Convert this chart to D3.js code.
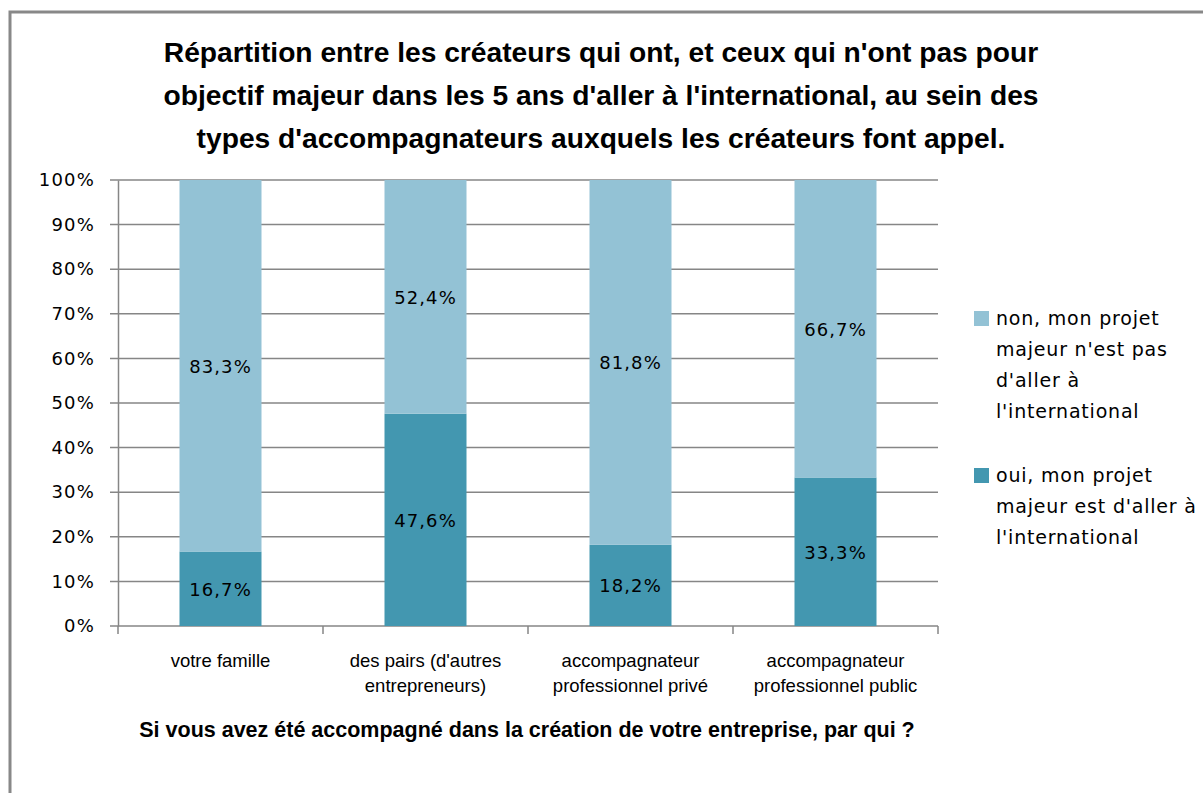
<!DOCTYPE html>
<html>
<head>
<meta charset="utf-8">
<script src="https://cdn.jsdelivr.net/npm/d3@7"></script>
<style>
  body { margin: 0; background: #fff; }
  svg { display: block; }
  .narrow { font-family: "Liberation Sans Narrow", "Arial Narrow", "Liberation Sans", sans-serif; }
  .wide { font-family: "DejaVu Sans", Verdana, sans-serif; }
</style>
</head>
<body>
<script>
const w = 1203;
const h = 793;

const categories = [
  ["votre famille"],
  ["des pairs (d'autres", "entrepreneurs)"],
  ["accompagnateur", "professionnel privé"],
  ["accompagnateur", "professionnel public"],
];
const oui = [16.7, 47.6, 18.2, 33.3];
const non = [83.3, 52.4, 81.8, 66.7];
const yTicks = [0, 10, 20, 30, 40, 50, 60, 70, 80, 90, 100];
const titleLines = [
  "Répartition entre les créateurs qui ont, et ceux qui n'ont pas pour",
  "objectif majeur dans les 5 ans d'aller à l'international, au sein des",
  "types d'accompagnateurs auxquels les créateurs font appel.",
];
const legendItems = [
  { color: "#93c2d5", lines: ["non, mon projet", "majeur n'est pas", "d'aller à", "l'international"] },
  { color: "#4397b0", lines: ["oui, mon projet", "majeur est d'aller à", "l'international"] },
];
const xTitle = "Si vous avez été accompagné dans la création de votre entreprise, par qui ?";

const colOui = "#4397b0";
const colNon = "#93c2d5";
const grid = "#868686";

const svg = d3.select("body").append("svg").attr("width", w).attr("height", h);

// frame
svg.append("rect")
  .attr("x", 10).attr("y", 12)
  .attr("width", w + 20).attr("height", h + 20)
  .attr("fill", "#fff").attr("stroke", "#888").attr("stroke-width", 3);

// title
svg.append("g").selectAll("text")
  .data(titleLines)
  .enter().append("text")
  .attr("class", "narrow")
  .attr("x", 601)
  .attr("y", (d, i) => 62 + i * 43)
  .attr("text-anchor", "middle")
  .attr("font-size", 28.2)
  .attr("font-weight", "bold")
  .text((d) => d);

const pLeft = 118, pRight = 938, pTop = 180, pBottom = 626;

const x = d3.scaleBand()
  .domain(d3.range(categories.length))
  .range([pLeft, pRight])
  .paddingInner(0.6)
  .paddingOuter(0.3);
const xb = d3.scaleBand().domain(d3.range(categories.length)).range([pLeft, pRight]);
const y = d3.scaleLinear().domain([0, 100]).range([pBottom, pTop]);

// grid lines
svg.append("g").selectAll("line")
  .data(yTicks)
  .enter().append("line")
  .attr("x1", pLeft - 8).attr("x2", pRight)
  .attr("y1", (d) => y(d)).attr("y2", (d) => y(d))
  .attr("stroke", grid).attr("stroke-width", 1.5);

// y axis
const yAxis = d3.axisLeft(y).tickValues(yTicks).tickSize(0).tickPadding(23)
  .tickFormat((d) => d + "%");
svg.append("g")
  .attr("transform", `translate(${pLeft}, 0)`)
  .call(yAxis)
  .call((g) => g.select(".domain").attr("stroke", grid).attr("stroke-width", 1.5))
  .call((g) => g.selectAll("text").attr("class", "wide").attr("font-size", 18)
    .attr("fill", "#000").attr("letter-spacing", 1.2));

// x axis ticks at category boundaries
const bounds = d3.range(categories.length + 1).map((i) => pLeft + i * xb.bandwidth());
svg.append("g").selectAll("line")
  .data(bounds)
  .enter().append("line")
  .attr("x1", (d) => d).attr("x2", (d) => d)
  .attr("y1", pBottom).attr("y2", pBottom + 8)
  .attr("stroke", grid).attr("stroke-width", 1.5);

// bars
const bars = svg.append("g");
bars.selectAll(".oui")
  .data(oui)
  .enter().append("rect")
  .attr("x", (d, i) => x(i))
  .attr("width", x.bandwidth())
  .attr("y", (d) => y(d))
  .attr("height", (d) => y(0) - y(d))
  .attr("fill", colOui);
bars.selectAll(".non")
  .data(non)
  .enter().append("rect")
  .attr("x", (d, i) => x(i))
  .attr("width", x.bandwidth())
  .attr("y", (d, i) => y(oui[i] + d))
  .attr("height", (d, i) => y(oui[i]) - y(oui[i] + d))
  .attr("fill", colNon);

const fmt = (v) => v.toFixed(1).replace(".", ",") + "%";
const labels = svg.append("g").attr("class", "wide").attr("font-size", 18)
  .attr("text-anchor", "middle").attr("letter-spacing", 1.1);
labels.selectAll(".lo")
  .data(oui)
  .enter().append("text")
  .attr("x", (d, i) => x(i) + x.bandwidth() / 2)
  .attr("y", (d) => y(d / 2) + 7)
  .text((d) => fmt(d));
labels.selectAll(".ln")
  .data(non)
  .enter().append("text")
  .attr("x", (d, i) => x(i) + x.bandwidth() / 2)
  .attr("y", (d, i) => y(oui[i] + d / 2) + 7)
  .text((d) => fmt(d));

// category labels
const cat = svg.append("g").attr("class", "narrow").attr("font-size", 18.5).attr("text-anchor", "middle");
categories.forEach((lines, i) => {
  const t = cat.append("text").attr("x", xb(i) + xb.bandwidth() / 2).attr("y", 667);
  lines.forEach((l, j) => t.append("tspan").attr("x", xb(i) + xb.bandwidth() / 2).attr("dy", j ? 25 : 0).text(l));
});

// x title
svg.append("text")
  .attr("class", "narrow")
  .attr("x", 527).attr("y", 737)
  .attr("text-anchor", "middle")
  .attr("font-size", 21.5).attr("font-weight", "bold")
  .text(xTitle);

// legend
const legend = svg.append("g").attr("class", "wide").attr("font-size", 19).attr("letter-spacing", 0.8);
let ly = 318;
legendItems.forEach((item) => {
  legend.append("rect").attr("x", 974).attr("y", ly - 7).attr("width", 15).attr("height", 15).attr("fill", item.color);
  item.lines.forEach((l, j) => {
    legend.append("text").attr("x", 996).attr("y", ly + 7 + j * 31).text(l);
  });
  ly += item.lines.length * 31 + 33;
});
</script>
</body>
</html>
